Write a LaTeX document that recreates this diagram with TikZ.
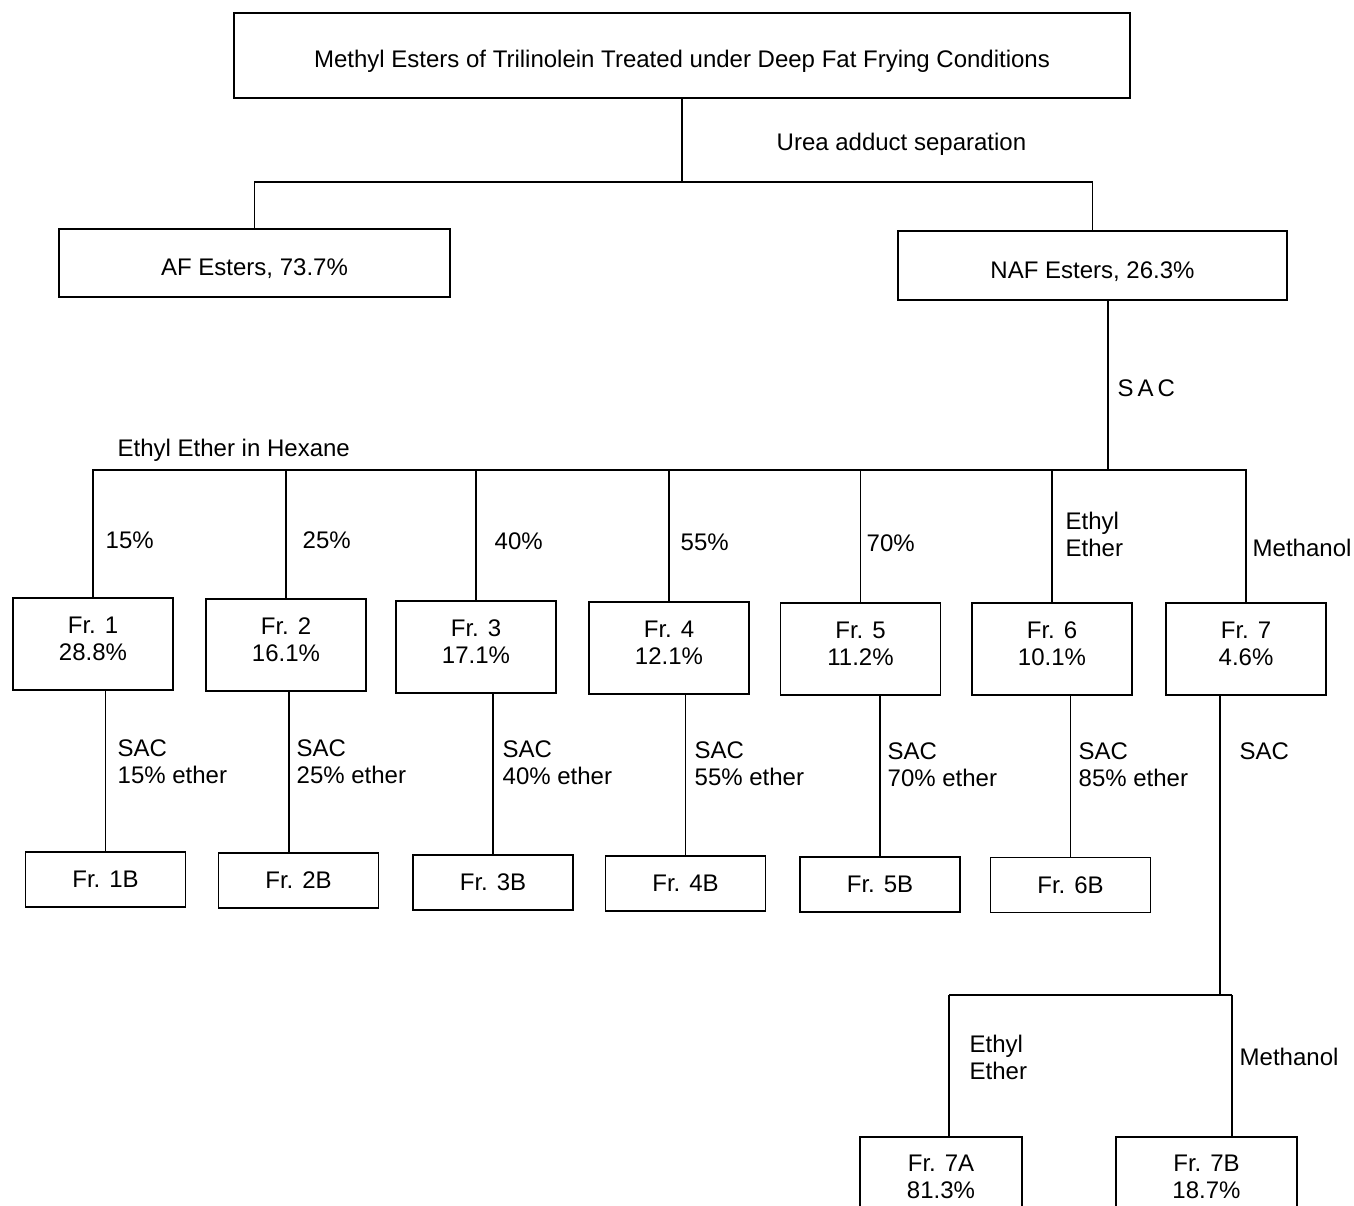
\documentclass[tikz,border=0pt]{standalone}
\usepackage{fontspec}
\setmainfont{Liberation Sans}

\begin{document}
\begin{tikzpicture}[x=0.5pt,y=-0.5pt,line width=0.7pt,
    box/.style={draw,inner sep=0pt,align=center,font=\fontsize{12}{13.5}\selectfont},
    widebox/.style={box,execute at begin node={\rule{0pt}{14.5pt}}},
    frbox/.style={box,minimum width=80pt,minimum height=46pt,execute at end node={\rule[-5pt]{0pt}{5pt}}},
    bbox/.style={box,minimum width=80pt,minimum height=27.5pt},
    lbl/.style={anchor=west,inner sep=0pt,align=left,font=\fontsize{12}{13.5}\selectfont}]
        \useasboundingbox (0,0) rectangle (1354,1205);

        % Starting material and urea split
        \node[widebox,minimum width=448pt,minimum height=42.5pt,execute at begin node={\rule{0pt}{13pt}}] (top) at (682,55.5)
            {Methyl Esters of Trilinolein Treated under Deep Fat Frying Conditions};
        \node[widebox,minimum width=195.5pt,minimum height=34pt] (af) at (254.5,263) {AF Esters, 73.7\%};
        \node[widebox,minimum width=194.5pt,minimum height=34.5pt] (naf) at (1092.5,265.5) {NAF Esters, 26.3\%};
        \coordinate (urea) at (682,182);
        \draw (top) -- (urea);
        \draw (af) |- (urea) -| (naf);
        \node[lbl] (ureatxt) at (776,144) {Urea adduct separation};

        % First column (SAC) fractions
        \node[frbox] (fr1) at (93,644) {Fr. 1\\28.8\%};
        \node[frbox] (fr2) at (286,645) {Fr. 2\\16.1\%};
        \node[frbox] (fr3) at (476,647) {Fr. 3\\17.1\%};
        \node[frbox] (fr4) at (669,648) {Fr. 4\\12.1\%};
        \node[frbox] (fr5) at (860.5,649) {Fr. 5\\11.2\%};
        \node[frbox] (fr6) at (1052,649) {Fr. 6\\10.1\%};
        \node[frbox] (fr7) at (1246,649) {Fr. 7\\4.6\%};
        \coordinate (sac) at (1108,470);
        \draw (naf.south -| sac) -- (sac);
        \draw (fr1) |- (sac) -| (fr7);
        \draw (fr2) -- (fr2 |- sac);
        \draw (fr3) -- (fr3 |- sac);
        \draw (fr4) -- (fr4 |- sac);
        \draw (fr5) -- (fr5 |- sac);
        \draw (fr6) -- (fr6 |- sac);
        \node[lbl] (sactxt) at (1117,388) {S\,A\,C};
        \node[lbl] (hexane) at (117,450) {Ethyl Ether in Hexane};
        \node[lbl] (e15) at (105,540) {15\%};
        \node[lbl] (e25) at (302,540) {25\%};
        \node[lbl] (e40) at (494,541) {40\%};
        \node[lbl] (e55) at (680,542) {55\%};
        \node[lbl] (e70) at (866,543) {70\%};
        \node[lbl] (eether) at (1065,534.5) {Ethyl\\Ether};
        \node[lbl] (emeoh) at (1252,548) {Methanol};

        % Second column
        \node[bbox] (fr1b) at (105.5,879.5) {Fr. 1B};
        \node[bbox] (fr2b) at (298.5,880.5) {Fr. 2B};
        \node[bbox] (fr3b) at (493,882.5) {Fr. 3B};
        \node[bbox] (fr4b) at (685.5,883.5) {Fr. 4B};
        \node[bbox] (fr5b) at (880,884.5) {Fr. 5B};
        \node[bbox] (fr6b) at (1070.5,885) {Fr. 6B};
        \coordinate (fr2in) at ([xshift=-4.75pt]fr2b.north);
        \draw (fr1b) -- (fr1b |- fr1.south);
        \draw (fr2in) -- (fr2in |- fr2.south);
        \draw (fr3b) -- (fr3b |- fr3.south);
        \draw (fr4b) -- (fr4b |- fr4.south);
        \draw (fr5b) -- (fr5b |- fr5.south);
        \draw (fr6b) -- (fr6b |- fr6.south);
        \node[lbl] (s15) at (117,761.5) {SAC\\15\% ether};
        \node[lbl] (s25) at (296,762) {SAC\\25\% ether};
        \node[lbl] (s40) at (502,763) {SAC\\40\% ether};
        \node[lbl] (s55) at (694,764) {SAC\\55\% ether};
        \node[lbl] (s70) at (887,765) {SAC\\70\% ether};
        \node[lbl] (s85) at (1078,765) {SAC\\85\% ether};

        % Fraction 7 split
        \node[frbox,minimum width=81pt,minimum height=45pt] (fr7a) at (941,1182) {Fr. 7A\\81.3\%};
        \node[frbox,minimum width=90.5pt,minimum height=45pt] (fr7b) at (1206.5,1182) {Fr. 7B\\18.7\%};
        \coordinate (m7) at (1220,995);
        \coordinate (m7a) at (949,995);
        \coordinate (m7b) at (1232,995);
        \draw (fr7.south -| m7) -- (m7);
        \draw (m7a) -- (m7b);
        \draw (m7a) -- (m7a |- fr7a.north);
        \draw (m7b) -- (m7b |- fr7b.north);
        \node[lbl] (s7) at (1239,751) {SAC};
        \node[lbl] (e7a) at (969,1057.5) {Ethyl\\Ether};
        \node[lbl] (m7txt) at (1239,1057) {Methanol};
    \end{tikzpicture}
\end{document}
